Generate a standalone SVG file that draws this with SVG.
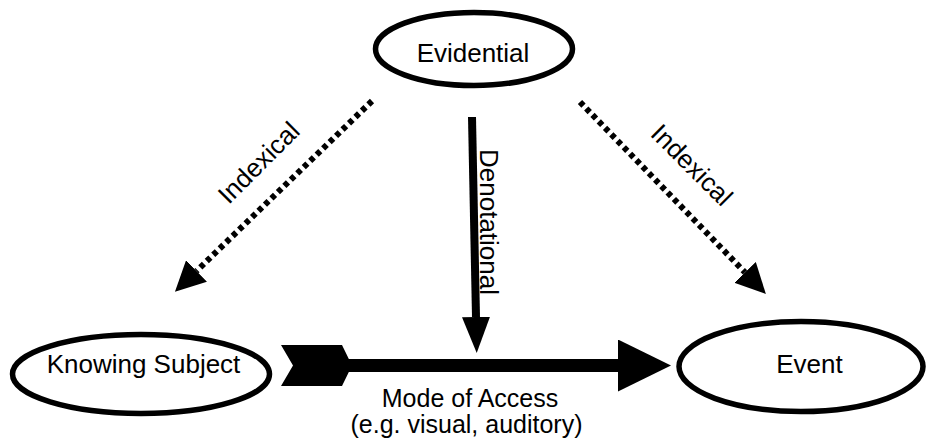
<svg xmlns="http://www.w3.org/2000/svg" width="930" height="440" viewBox="0 0 930 440">
<style>
.node{fill:#fff;stroke:#000;stroke-width:5.5}
.lbl{font-family:"Liberation Sans",Arial,Helvetica,sans-serif;font-size:26px;fill:#000;text-anchor:middle}
.sm{font-size:25px}
.dot{fill:none;stroke:#000;stroke-width:6;stroke-dasharray:5 4}
.solid{fill:none;stroke:#000}
</style>
<defs>
<marker id="headS" markerUnits="userSpaceOnUse" markerWidth="30" markerHeight="30" refX="0" refY="15" orient="auto">
<path d="M0,0 L30,15 L0,30 z" fill="#000"/>
</marker>
<marker id="headD" markerUnits="userSpaceOnUse" markerWidth="36" markerHeight="28" refX="0" refY="14" orient="auto">
<path d="M0,0 L36,14 L0,28 z" fill="#000"/>
</marker>
<marker id="headL" markerUnits="userSpaceOnUse" markerWidth="53" markerHeight="52" refX="0" refY="26" orient="auto">
<path d="M0,0 L53,26 L0,52 z" fill="#000"/>
</marker>
</defs>
<g id="connectors">
<line class="dot" x1="372" y1="101" x2="196.5" y2="271" marker-end="url(#headS)"/>
<line class="dot" x1="580" y1="102" x2="745" y2="272.4" marker-end="url(#headS)"/>
<line class="solid" stroke-width="8" x1="472" y1="117" x2="476" y2="317" marker-end="url(#headD)"/>
<polygon points="281,345 342,345 352,365.5 342,386 281,386 293,365.5" fill="#000"/>
<line class="solid" stroke-width="13" x1="345" y1="365.5" x2="618" y2="365.5" marker-end="url(#headL)"/>
<text class="lbl" transform="translate(265,169) rotate(-45)">Indexical</text>
<text class="lbl" transform="translate(685.6,171.4) rotate(45)">Indexical</text>
<text class="lbl" transform="translate(480,222) rotate(90)">Denotational</text>
<text class="lbl sm" x="470" y="407">Mode of Access</text>
<text class="lbl sm" x="466.5" y="433">(e.g. visual, auditory)</text>
</g>
<g id="evidential">
<ellipse class="node" cx="474" cy="49" rx="98.5" ry="36.5"/>
<text class="lbl" x="473" y="62">Evidential</text>
</g>
<g id="knowing-subject">
<ellipse class="node" cx="141" cy="374" rx="128.5" ry="39.5"/>
<text class="lbl" x="143.5" y="373">Knowing Subject</text>
</g>
<g id="event">
<ellipse class="node" cx="801" cy="366.5" rx="122" ry="45"/>
<text class="lbl" x="809.5" y="373">Event</text>
</g>
</svg>
